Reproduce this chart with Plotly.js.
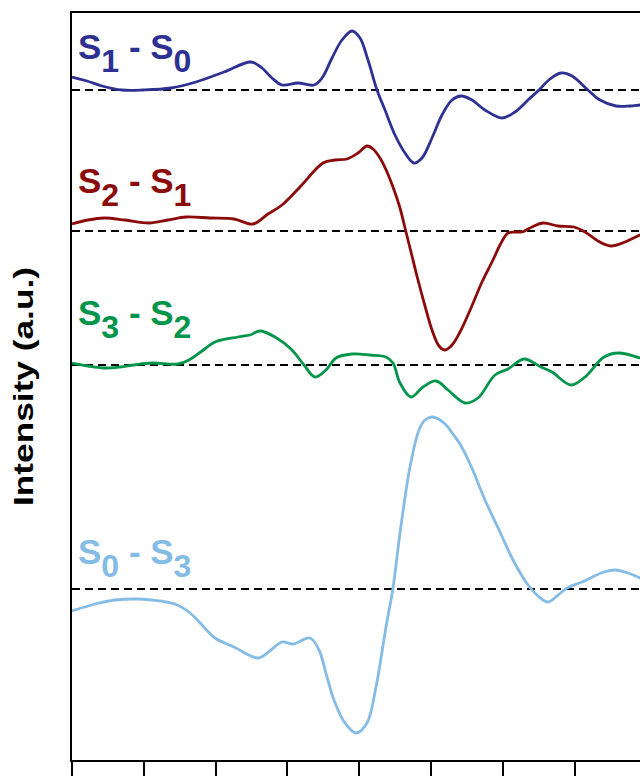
<!DOCTYPE html>
<html>
<head>
<meta charset="utf-8">
<script src="https://cdn.plot.ly/plotly-3.0.1.min.js"></script>
<style>
  html, body { margin: 0; padding: 0; background: #ffffff; overflow: hidden; }
  #chart { width: 700px; height: 800px; }
</style>
</head>
<body>
<div id="chart"></div>
<script>
// Series labels and colours
const SUB = '<span style="font-size:32px;baseline-shift:-13px">';
const seriesLabels = [
  'S' + SUB + '1</span> - S' + SUB + '0</span>',
  'S' + SUB + '2</span> - S' + SUB + '1</span>',
  'S' + SUB + '3</span> - S' + SUB + '2</span>',
  'S' + SUB + '0</span> - S' + SUB + '3</span>'
];
const seriesNames = ['S1 - S0', 'S2 - S1', 'S3 - S2', 'S0 - S3'];
const seriesColors = ['#2e3192', '#8b0a0a', '#00954a', '#85bce6'];

// Vertical offsets (baselines, a.u.) of each stacked difference spectrum
const offsets = [671, 530, 396, 172];

// S1 - S0
const xS1S0 = [0,15,30,50,71,99,124,152,179,190,200,210,226,242,250,260,270,280,288,296,305,313,323,333,342,350,360,370,380,389,400,413,430,443,456,467,478,489,500,516,528,544,558,568,580];
const yS1S0 = [13,9,4,0,0,2,8,18,28,22,12,5,7,5,12,32,50,59,52,30,0,-20,-45,-63,-73,-68,-48,-25,-10,-6,-10,-20,-28,-22,-10,0,11,17,14,0,-10,-16,-16,-15,-14];

// S2 - S1
const xS2S1 = [0,16,32,53,77,96,114,138,162,181,196,210,228,251,263,275,286,295,301,308,315,321,328,333,339,346,353,360,367,373,380,388,399,410,421,428,436,443,450,460,471,486,502,513,526,539,553,568,580];
const yS2S1 = [7,11,13,11,8,11,14,13,12,7,17,26,44,68,71,72,78,85,82,73,59,44,23,3,-21,-49,-75,-99,-115,-119,-114,-101,-77,-51,-29,-14,-2,-1,-1,4,8,5,4,-1,-10,-15,-11,-4,0];

// S3 - S2
const xS3S2 = [0,16,32,48,62,80,106,117,130,143,166,178,188,203,219,232,243,254,264,280,298,314,321,328,339,351,364,376,393,406,423,436,452,469,480,499,513,532,547,568,580];
const yS3S2 = [2,-1,-3,-2,0,2,1,5,14,23,28,30,34,28,16,0,-12,-5,7,11,10,8,2,-18,-32,-22,-16,-25,-38,-33,-10,-4,6,-2,-7,-20,-12,8,12,7,4];

// S0 - S3
const xS0S3 = [0,23,43,63,80,103,117,130,143,162,186,199,210,221,238,247,255,262,273,284,295,304,314,321,328,338,347,353,360,368,375,381,388,399,413,428,441,456,466,476,485,495,510,532,543,556,568,580];
const yS0S3 = [-22,-15,-11,-10,-11,-15,-23,-36,-49,-58,-69,-61,-53,-55,-49,-61,-88,-111,-134,-144,-134,-98,-38,1,56,122,159,169,172,169,163,155,145,123,89,57,29,4,-7,-13,-7,1,7,17,19,16,11,7];

const xSeries = [xS1S0, xS2S1, xS3S2, xS0S3];
const ySeries = [yS1S0, yS2S1, yS3S2, yS0S3];

// X axis (arbitrary units) and tick spacing
const xRange = [0, 628];
const xTickStep = 71.8;
const yRange = [1, 748];

const traces = [];
// dashed baselines
offsets.forEach(function (off) {
  traces.push({
    x: xRange, y: [off, off], mode: 'lines', type: 'scatter',
    line: { color: '#000000', width: 1.8, dash: '8px,5px' },
    hoverinfo: 'skip', showlegend: false
  });
});
// spectra
for (let i = 0; i < 4; i++) {
  traces.push({
    x: xSeries[i],
    y: ySeries[i].map(function (v) { return v + offsets[i]; }),
    name: seriesNames[i],
    mode: 'lines', type: 'scatter',
    line: { color: seriesColors[i], width: 2.8, shape: 'spline', smoothing: 1 },
    showlegend: false
  });
}

const labelY = [0.9839, 0.8046, 0.6283, 0.3074];
const annotations = seriesLabels.map(function (t, i) {
  return {
    text: t, xref: 'paper', yref: 'paper', x: 0.0064, y: labelY[i],
    xanchor: 'left', yanchor: 'top', showarrow: false,
    font: { family: 'Liberation Sans, Arial, sans-serif', size: 35, color: seriesColors[i], weight: 'bold' }
  };
});

const layout = {
  width: 700, height: 800,
  margin: { l: 72, r: 0, t: 13, b: 40 },
  paper_bgcolor: '#ffffff', plot_bgcolor: '#ffffff',
  showlegend: false,
  xaxis: {
    range: xRange, showgrid: false, zeroline: false,
    showline: true, linecolor: '#000000', linewidth: 2, mirror: true,
    ticks: 'outside', ticklen: 16, tickwidth: 2, tickcolor: '#000000',
    tick0: 0, dtick: xTickStep, showticklabels: false
  },
  yaxis: {
    range: yRange, showgrid: false, zeroline: false,
    showline: true, linecolor: '#000000', linewidth: 2, mirror: true,
    ticks: '', showticklabels: false,
    title: {
      text: 'Intensity (a.u.)', standoff: 28,
      font: { family: 'Liberation Sans, Arial, sans-serif', size: 28, color: '#000000', weight: 'bold' }
    }
  },
  annotations: annotations
};

Plotly.newPlot('chart', traces, layout, { displayModeBar: false, staticPlot: true }).then(function (gd) {
  const t = gd.querySelector('.ytitle');
  if (t) {
    const cx = parseFloat(t.getAttribute('x'));
    const cy = parseFloat(t.getAttribute('y'));
    const tr = t.getAttribute('transform') || '';
    t.setAttribute('transform', 'translate(' + cx + ',' + cy + ') scale(1,1.26) translate(' + (-cx) + ',' + (-cy) + ') ' + tr);
  }
});
</script>
</body>
</html>
